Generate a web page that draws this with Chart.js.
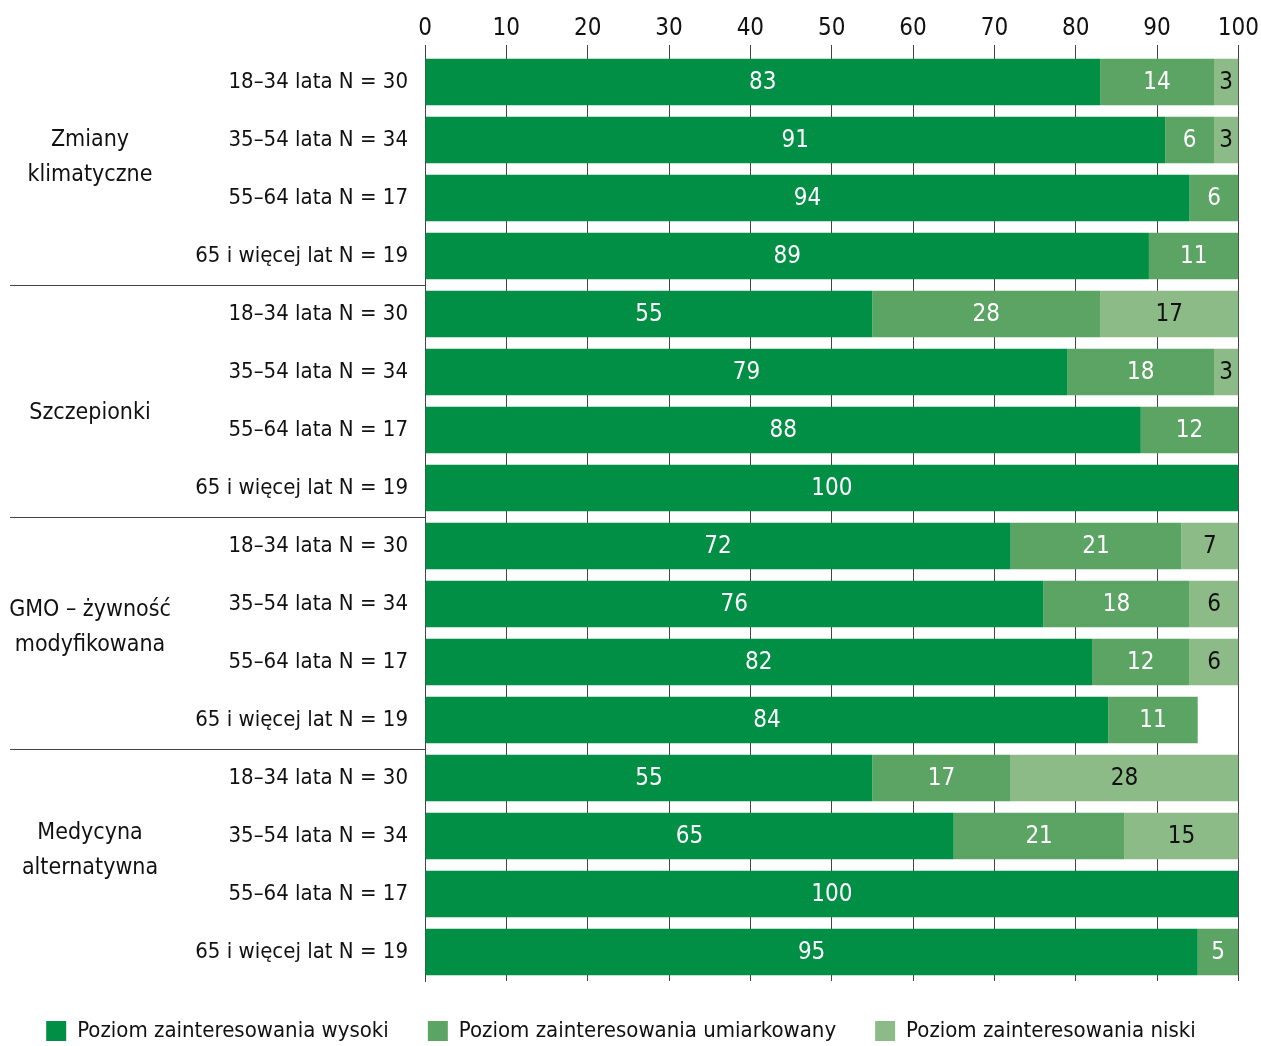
<!DOCTYPE html>
<html>
<head>
<meta charset="utf-8">
<script src="https://cdn.jsdelivr.net/npm/chart.js@4.4.1/dist/chart.umd.min.js"></script>
<style>
  html, body { margin: 0; padding: 0; background: #fff; }
  #wrap { width: 1261px; height: 1046px; }
</style>
</head>
<body>
<div id="wrap"><canvas id="c" width="1261" height="1046"></canvas></div>
<script>
// Age groups, repeated for every topic
const categories = [
  '18–34 lata N = 30', '35–54 lata N = 34', '55–64 lata N = 17', '65 i więcej lat N = 19',
  '18–34 lata N = 30', '35–54 lata N = 34', '55–64 lata N = 17', '65 i więcej lat N = 19',
  '18–34 lata N = 30', '35–54 lata N = 34', '55–64 lata N = 17', '65 i więcej lat N = 19',
  '18–34 lata N = 30', '35–54 lata N = 34', '55–64 lata N = 17', '65 i więcej lat N = 19'
];
// Topics, each spanning four consecutive rows
const topics = [
  ['Zmiany', 'klimatyczne'],
  ['Szczepionki'],
  ['GMO – żywność', 'modyfikowana'],
  ['Medycyna', 'alternatywna']
];
const seriesNames = [
  'Poziom zainteresowania wysoki',
  'Poziom zainteresowania umiarkowany',
  'Poziom zainteresowania niski'
];
// Shares in percent
const high     = [83, 91, 94, 89,  55, 79, 88, 100,  72, 76, 82, 84,  55, 65, 100, 95];
const moderate = [14,  6,  6, 11,  28, 18, 12,   0,  21, 18, 12, 11,  17, 21,   0,  5];
const low      = [ 3,  3,  0,  0,  17,  3,  0,   0,   7,  6,  6,  0,  28, 15,   0,  0];
const xTicks   = [0, 10, 20, 30, 40, 50, 60, 70, 80, 90, 100];

const FONT = "'Liberation Sans Narrow', 'DejaVu Sans Condensed', 'Open Sans', sans-serif";
const colors = ['#008f45', '#5ba463', '#8dbb87'];
const labelColors = ['#ffffff', '#ffffff', '#111111'];

Chart.defaults.font.family = FONT;
Chart.defaults.color = '#111';

// Value printed in the middle of every segment
const segmentLabels = {
  id: 'segmentLabels',
  afterDatasetsDraw(chart) {
    const ctx = chart.ctx;
    const area = chart.chartArea;
    ctx.save();
    ctx.font = '24px ' + FONT;
    ctx.textAlign = 'center';
    ctx.textBaseline = 'middle';
    chart.data.datasets.forEach((ds, di) => {
      const meta = chart.getDatasetMeta(di);
      meta.data.forEach((bar, i) => {
        const v = ds.data[i];
        if (!v) return;
        const left = Math.max(Math.min(bar.x, bar.base), area.left);
        const right = Math.min(Math.max(bar.x, bar.base), area.right);
        ctx.fillStyle = labelColors[di];
        ctx.fillText(String(v), (left + right) / 2, bar.y + 1);
      });
    });
    ctx.restore();
  }
};

// Topic names on the far left and the rules separating topics
const topicBlocks = {
  id: 'topicBlocks',
  afterDraw(chart) {
    const ctx = chart.ctx;
    const y = chart.scales.y;
    const area = chart.chartArea;
    const anchors = [1.3, 5.7, 9.4, 13.25]; // row position of each topic caption
    ctx.save();
    ctx.font = '23px ' + FONT;
    ctx.textAlign = 'center';
    ctx.textBaseline = 'middle';
    ctx.fillStyle = '#111';
    topics.forEach((lines, t) => {
      const a = anchors[t];
      const r0 = Math.floor(a);
      const cy = y.getPixelForValue(r0) + (a - r0) * (y.getPixelForValue(r0 + 1) - y.getPixelForValue(r0));
      const lh = 35;
      lines.forEach((ln, k) => {
        ctx.fillText(ln, 90, cy + (k - (lines.length - 1) / 2) * lh);
      });
    });
    ctx.strokeStyle = '#444';
    ctx.lineWidth = 1;
    for (let t = 1; t < topics.length; t++) {
      const yy = Math.round((y.getPixelForValue(t * 4 - 1) + y.getPixelForValue(t * 4)) / 2) + 0.5;
      ctx.beginPath();
      ctx.moveTo(10, yy);
      ctx.lineTo(area.left, yy);
      ctx.stroke();
    }
    ctx.restore();
  }
};

new Chart(document.getElementById('c'), {
  type: 'bar',
  data: {
    labels: categories,
    datasets: [high, moderate, low].map((d, i) => ({
      label: seriesNames[i],
      data: d,
      backgroundColor: colors[i],
      borderWidth: 0,
      barPercentage: 0.8,
      categoryPercentage: 1.0
    }))
  },
  options: {
    responsive: false,
    animation: false,
    indexAxis: 'y',
    layout: { padding: { left: 0, right: 19, top: 0, bottom: -6 } },
    scales: {
      x: {
        position: 'top',
        stacked: true,
        min: 0,
        max: 100,
        afterBuildTicks(s) { s.ticks = xTicks.map(v => ({ value: v })); },
        afterFit(s) { s.height = 53; },
        ticks: { font: { size: 24 }, color: '#111', padding: 2, maxRotation: 0 },
        grid: { color: '#444', lineWidth: 1, tickLength: 8, drawOnChartArea: true },
        border: { display: false }
      },
      y: {
        stacked: true,
        afterFit(s) { s.width = 425; },
        ticks: { font: { size: 22 }, color: '#111', padding: 17 },
        grid: { display: false, drawTicks: false },
        border: { display: true, color: '#444', width: 1 }
      }
    },
    plugins: {
      legend: {
        position: 'bottom',
        labels: {
          boxWidth: 20,
          boxHeight: 20,
          padding: 39,
          font: { size: 22 },
          color: '#111'
        }
      },
      tooltip: { enabled: false }
    }
  },
  plugins: [segmentLabels, topicBlocks]
});
</script>
</body>
</html>
